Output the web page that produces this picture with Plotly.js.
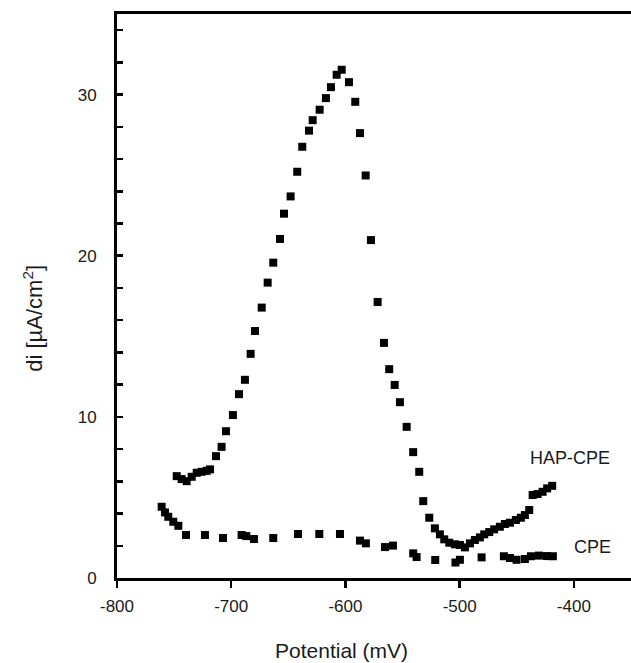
<!DOCTYPE html>
<html>
<head>
<meta charset="utf-8">
<script src="https://cdn.plot.ly/plotly-3.0.1.min.js"></script>
<style>html,body{margin:0;padding:0;background:#fff}#chart{width:631px;height:663px}</style>
</head>
<body>
<div id="chart"></div>
<script>
// HAP-CPE series
const hapX = [-747.7,-743.4,-739.0,-734.6,-730.2,-725.9,-721.5,-718.6,-713.3,-708.4,-704.6,-698.5,-693.2,-688.0,-683.0,-679.2,-673.3,-668.1,-663.2,-657.3,-653.8,-648.0,-642.2,-637.8,-631.9,-628.7,-622.6,-617.1,-612.7,-607.7,-603.3,-596.9,-591.4,-587.3,-582.3,-577.7,-571.8,-566.3,-561.7,-556.9,-552.3,-546.4,-540.7,-535.4,-531.9,-526.6,-521.7,-517.3,-513.5,-509.1,-504.2,-499.8,-495.4,-491.0,-486.7,-482.3,-478.5,-474.1,-469.8,-464.8,-460.4,-456.0,-450.8,-446.4,-442.9,-439.1,-436.1,-431.8,-427.4,-423.4,-419.0];
const hapY = [6.32,6.14,6.01,6.28,6.53,6.59,6.65,6.74,7.56,8.14,9.11,10.11,11.41,12.3,13.91,15.33,16.78,18.33,19.57,21.04,22.61,23.68,25.21,26.76,27.76,28.41,29.06,29.78,30.46,31.23,31.54,30.77,29.55,27.61,24.98,20.97,17.13,14.59,12.96,11.98,10.91,9.38,7.81,6.59,4.77,3.74,3.08,2.71,2.40,2.19,2.09,2.05,1.90,2.15,2.36,2.52,2.71,2.85,3.02,3.18,3.35,3.43,3.60,3.74,3.91,4.22,5.15,5.21,5.35,5.56,5.72];
// CPE series
const cpeX = [-760.9,-758.0,-755.1,-750.7,-746.3,-739.6,-723.0,-707.2,-690.9,-686.8,-680.1,-663.2,-641.6,-622.9,-604.8,-587.3,-582.1,-565.4,-558.4,-540.7,-537.7,-521.4,-503.7,-499.8,-480.8,-461.3,-456.0,-450.2,-442.9,-437.6,-430.6,-423.6,-418.4];
const cpeY = [4.42,4.07,3.80,3.49,3.24,2.67,2.67,2.48,2.67,2.60,2.42,2.48,2.73,2.73,2.73,2.32,2.15,1.92,2.01,1.53,1.30,1.12,0.96,1.13,1.28,1.35,1.24,1.13,1.18,1.35,1.39,1.36,1.35];
// ticks and labels
const xTickVals = [-800, -700, -600, -500, -400];
const xTickText = ["-800", "-700", "-600", "-500", "-400"];
const yTickVals = [0, 10, 20, 30];
const yMinorVals = [2,4,6,8,12,14,16,18,22,24,26,28,32,34];
const seriesLabels = ["HAP-CPE", "CPE"];
const labelX = [-403.5, -383.4];
const labelY = [7.44, 1.92];
const xTitle = "Potential (mV)";
const yTitle = "di [µA/cm<sup>2</sup>]";

const FONT = "Liberation Sans, Arial, sans-serif";
const TXT = "#1a1a1a";
const marker = {symbol: "square", size: 8, color: "#000"};

const traces = [
  {x: hapX, y: hapY, type: "scatter", mode: "markers", marker: marker, name: seriesLabels[0], hoverinfo: "x+y"},
  {x: cpeX, y: cpeY, type: "scatter", mode: "markers", marker: marker, name: seriesLabels[1], hoverinfo: "x+y"}
];

const layout = {
  width: 631, height: 663,
  margin: {l: 117, r: 0, t: 14, b: 85, pad: 0},
  paper_bgcolor: "#fff", plot_bgcolor: "#fff",
  showlegend: false,
  font: {family: FONT, size: 17, color: TXT},
  xaxis: {
    range: [-800, -350], tickvals: xTickVals, ticktext: xTickText,
    showgrid: false, zeroline: false,
    showline: true, linecolor: "#000", linewidth: 3, mirror: true,
    ticks: "outside", ticklen: 7, tickwidth: 2.5, tickcolor: "#000",
    ticklabelstandoff: 4,
    tickfont: {family: FONT, size: 17, color: TXT}
  },
  yaxis: {
    range: [0, 35], tickvals: yTickVals,
    showgrid: false, zeroline: false,
    showline: true, linecolor: "#000", linewidth: 3,
    ticks: "inside", ticklen: 6, tickwidth: 2.5, tickcolor: "#000",
    minor: {tickvals: yMinorVals, ticks: "inside", ticklen: 6, tickwidth: 2.5, tickcolor: "#000", showgrid: false},
    ticklabelstandoff: 14,
    tickfont: {family: FONT, size: 17, color: TXT}
  },
  annotations: [
    {text: seriesLabels[0], x: labelX[0], y: labelY[0], xref: "x", yref: "y", showarrow: false, font: {family: FONT, size: 18, color: TXT}},
    {text: seriesLabels[1], x: labelX[1], y: labelY[1], xref: "x", yref: "y", showarrow: false, font: {family: FONT, size: 18, color: TXT}},
    {text: xTitle, x: 0.4377, y: -0.1277, xref: "paper", yref: "paper", showarrow: false, xanchor: "center", yanchor: "middle", font: {family: FONT, size: 21, color: TXT}},
    {text: yTitle, x: -0.165, y: 0.46, xref: "paper", yref: "paper", showarrow: false, textangle: -90, xanchor: "center", yanchor: "middle", font: {family: FONT, size: 22, color: TXT}}
  ]
};

Plotly.newPlot("chart", traces, layout, {displayModeBar: false, staticPlot: true});
</script>
</body>
</html>
